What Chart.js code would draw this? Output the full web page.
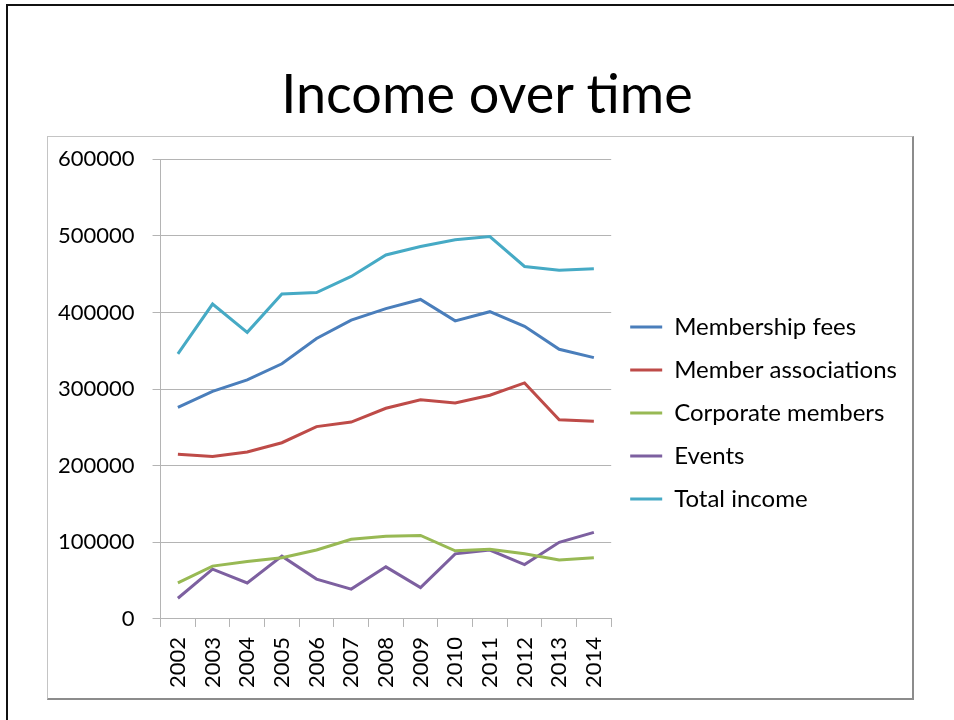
<!DOCTYPE html>
<html>
<head>
<meta charset="utf-8">
<script src="https://cdn.jsdelivr.net/npm/chart.js@4/dist/chart.umd.min.js"></script>
<style>
  html, body { margin: 0; padding: 0; background: #fff; }
  body { width: 954px; height: 720px; position: relative; overflow: hidden; font-family: Lato, "Open Sans", sans-serif; }
  .slide { position: absolute; left: 6px; top: 4px; width: 960px; height: 740px; border-left: 2px solid #111; border-top: 2px solid #111; }
  h1 { position: absolute; left: 0; width: 974px; top: 63px; margin: 0; text-align: center; font-weight: 400; font-size: 54px; line-height: 60px; color: #000; }
  .box { position: absolute; left: 47px; top: 136px; width: 864px; height: 561px; border: 1px solid #c4c4c4; border-right: 2px solid #8c8c8c; border-bottom: 2px solid #8c8c8c; }
  .box canvas { display: block; position: absolute; left: 0; top: -9px; }
</style>
</head>
<body>
<div class="slide"></div>
<h1>Income over time</h1>
<div class="box"><canvas id="ingresos"></canvas></div>
<script>
//Datos
const years = ['2002','2003','2004','2005','2006','2007','2008','2009','2010','2011','2012','2013','2014'];
const membershipFees = [276000, 297000, 312000, 333000, 366000, 390000, 405000, 417000, 389000, 401000, 382000, 352000, 341000];
const memberAssociations = [215000, 212000, 218000, 230000, 251000, 257000, 275000, 286000, 282000, 292000, 308000, 260000, 258000];
const corporateMembers = [47000, 69000, 75000, 80000, 90000, 104000, 108000, 109000, 89000, 91000, 85000, 77000, 80000];
const events = [27000, 65000, 47000, 82000, 52000, 39000, 68000, 41000, 85000, 90000, 71000, 100000, 113000];
const totalIncome = [346000, 411000, 374000, 424000, 426000, 447000, 475000, 486000, 495000, 499000, 460000, 455000, 457000];
const seriesNames = ['Membership fees', 'Member associations', 'Corporate members', 'Events', 'Total income'];
const seriesColors = ['#4a7ebb', '#be4b48', '#98b954', '#7d60a0', '#46aac5'];

const gridGris = '#b4b4b4';

const canvas = document.getElementById('ingresos');
canvas.width = 864;
canvas.height = 570;

const valores = [membershipFees, memberAssociations, corporateMembers, events, totalIncome];

const data_ingresos = {
  labels: years,
  datasets: valores.map((serie, i) => ({
    label: seriesNames[i],
    data: serie,
    borderColor: seriesColors[i],
    backgroundColor: seriesColors[i],
    borderWidth: 3,
    pointRadius: 0,
    fill: false,
    tension: 0
  }))
};

//La leyenda de la derecha no cabe con el ancho maximo por defecto, le doy mas
const legendAncho = {
  id: 'legendAncho',
  beforeUpdate(chart) {
    const legend = chart.legend;
    if (legend && !legend._anchoOk) {
      const original = legend.update;
      legend.update = function (maxWidth, maxHeight, margins) {
        return original.call(this, 340, maxHeight, margins);
      };
      legend._anchoOk = true;
    }
  }
};

let ingresos_OBJ = new Chart(canvas, {
  type: 'line',
  data: data_ingresos,
  plugins: [legendAncho],
  options: {
    responsive: false,
    animation: false,
    layout: { padding: { left: -8, right: 5, top: 0, bottom: 0 } },
    plugins: {
      tooltip: { enabled: false },
      legend: {
        position: 'right',
        labels: {
          usePointStyle: true,
          pointStyle: 'line',
          pointStyleWidth: 32,
          boxHeight: 3,
          padding: 19,
          color: '#000',
          font: { family: 'Lato', size: 24 }
        }
      }
    },
    scales: {
      x: {
        offset: true,
        grid: { offset: true, drawOnChartArea: false, drawTicks: true, tickLength: 8, color: gridGris },
        border: { color: gridGris },
        ticks: { minRotation: 90, maxRotation: 90, padding: 10, color: '#000', font: { family: 'Lato', size: 22 } }
      },
      y: {
        min: 0,
        max: 600000,
        grid: { color: gridGris, tickLength: 8 },
        border: { color: gridGris },
        ticks: {
          stepSize: 100000,
          padding: 18,
          color: '#000',
          font: { family: 'Lato', size: 22 },
          callback: (v) => String(v)
        }
      }
    }
  }
});
</script>
</body>
</html>
